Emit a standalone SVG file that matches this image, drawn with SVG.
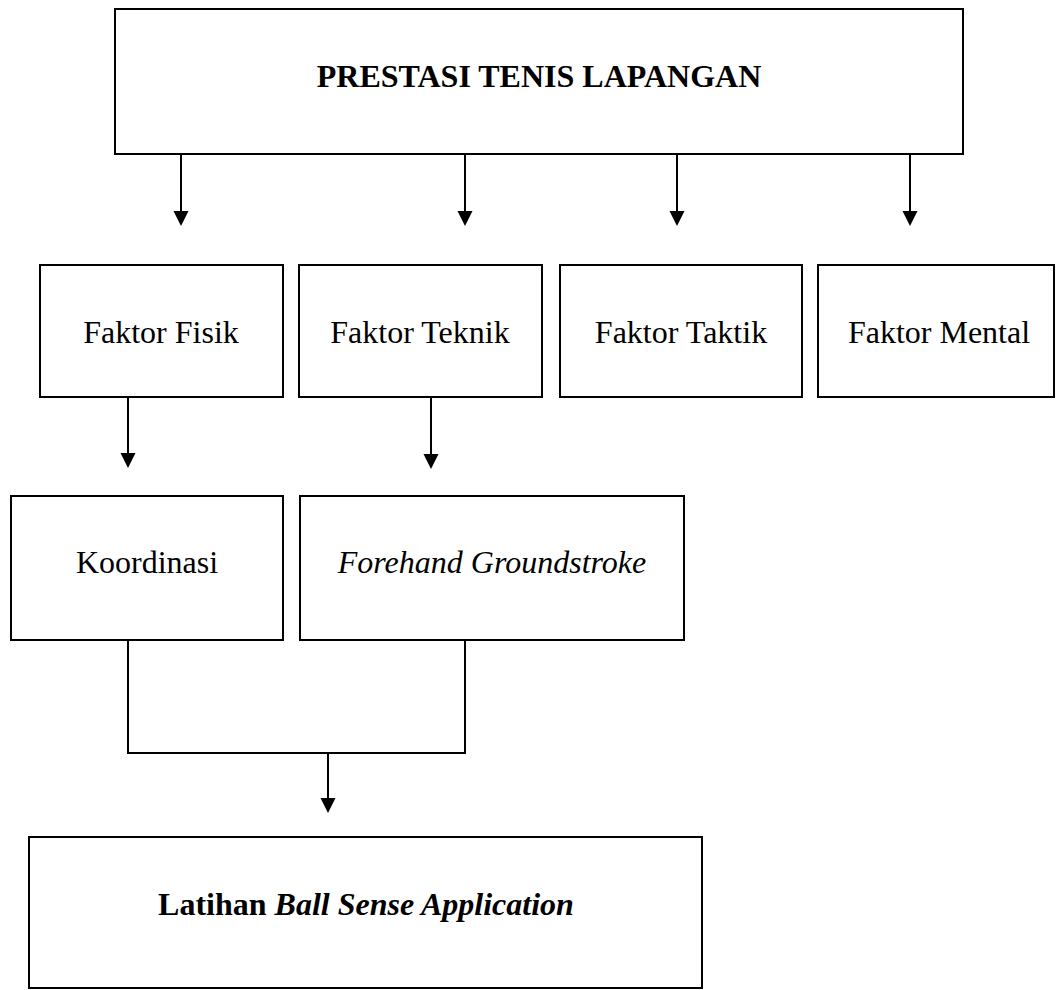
<svg xmlns="http://www.w3.org/2000/svg" width="1056" height="990" viewBox="0 0 1056 990">
<style>
.box{fill:#fff;stroke:#000;stroke-width:2}
.t{font-family:"Liberation Serif","Times New Roman",serif;font-size:32px;fill:#000;text-anchor:middle}
.b{font-weight:bold}
.i{font-style:italic}
.c{fill:none;stroke:#000;stroke-width:2}
</style>
<defs>
<marker id="ah" viewBox="0 0 16 16" refX="8" refY="16" markerWidth="16" markerHeight="16" markerUnits="userSpaceOnUse" orient="auto-start-reverse">
<path d="M0,0 L16,0 L8,16 Z" fill="#000"/>
</marker>
</defs>
<rect width="1056" height="990" fill="#fff"/>
<g id="connectors">
<line class="c" x1="181" y1="154" x2="181" y2="212"/><path d="M173.5,211 L188.5,211 L181,226 Z"/>
<line class="c" x1="465" y1="154" x2="465" y2="212"/><path d="M457.5,211 L472.5,211 L465,226 Z"/>
<line class="c" x1="677" y1="154" x2="677" y2="212"/><path d="M669.5,211 L684.5,211 L677,226 Z"/>
<line class="c" x1="910" y1="154" x2="910" y2="212"/><path d="M902.5,211 L917.5,211 L910,226 Z"/>
<line class="c" x1="128" y1="397" x2="128" y2="454"/><path d="M120.5,453 L135.5,453 L128,468 Z"/>
<line class="c" x1="431" y1="397" x2="431" y2="455"/><path d="M423.5,454 L438.5,454 L431,469 Z"/>
<polyline class="c" points="128,640 128,753 465,753 465,640"/>
<line class="c" x1="328" y1="753" x2="328" y2="799"/><path d="M320.5,798 L335.5,798 L328,813 Z"/>
</g>
<g id="prestasi">
<rect class="box" x="115" y="9" width="848" height="145"/>
<text class="t b" x="539" y="87">PRESTASI TENIS LAPANGAN</text>
</g>
<g id="fisik">
<rect class="box" x="40" y="265" width="243" height="132"/>
<text class="t" x="161" y="343">Faktor Fisik</text>
</g>
<g id="teknik">
<rect class="box" x="299" y="265" width="243" height="132"/>
<text class="t" x="420" y="343">Faktor Teknik</text>
</g>
<g id="taktik">
<rect class="box" x="560" y="265" width="242" height="132"/>
<text class="t" x="681" y="343">Faktor Taktik</text>
</g>
<g id="mental">
<rect class="box" x="818" y="265" width="236" height="132"/>
<text class="t" x="939" y="343">Faktor Mental</text>
</g>
<g id="koordinasi">
<rect class="box" x="11" y="496" width="272" height="144"/>
<text class="t" x="147" y="573">Koordinasi</text>
</g>
<g id="forehand">
<rect class="box" x="300" y="496" width="384" height="144"/>
<text class="t i" x="492" y="573">Forehand Groundstroke</text>
</g>
<g id="latihan">
<rect class="box" x="29" y="837" width="673" height="151"/>
<text class="t b" x="366" y="915">Latihan <tspan class="i">Ball Sense Application</tspan></text>
</g>
</svg>
